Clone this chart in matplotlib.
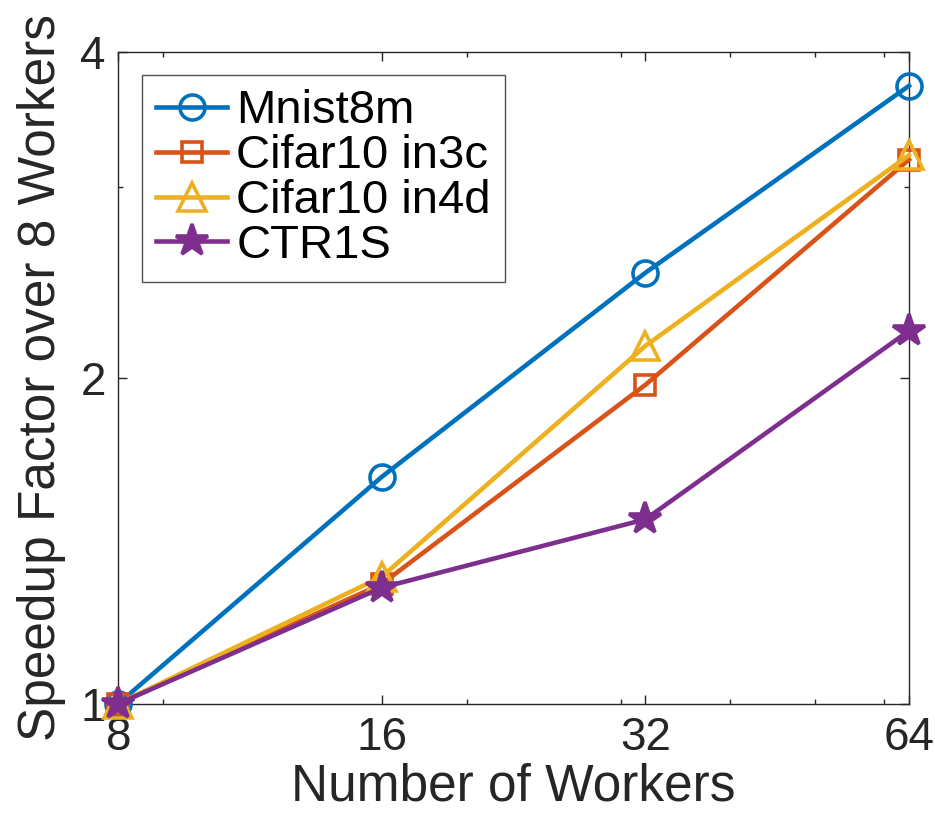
import numpy as np
import matplotlib
matplotlib.use("Agg")
import matplotlib.pyplot as plt
from matplotlib.ticker import FixedLocator, NullFormatter

plt.rcParams["font.family"] = ["Liberation Sans", "DejaVu Sans"]

# speedup relative to 8 workers
workers = [8, 16, 32, 64]
mnist8m = [1.0, 1.62, 2.50, 3.72]
cifar10_in3c = [1.0, 1.29, 1.97, 3.18]
cifar10_in4d = [1.0, 1.31, 2.14, 3.21]
ctr1s = [1.0, 1.28, 1.48, 2.21]

labels = ["Mnist8m", "Cifar10 in3c", "Cifar10 in4d", "CTR1S"]
colors = ["#0072BD", "#D95319", "#EDB120", "#7E2F8E"]
markers = ["o", "s", "^", "*"]
msizes = [18, 15, 20, 24]
filled = [False, False, False, True]

ink = "#262626"

fig = plt.figure(figsize=(9.35, 8.14), dpi=100)
ax = fig.add_axes([0.1265, 0.1355, 0.8457, 0.801])

for ys, lab, c, m, ms, f in zip([mnist8m, cifar10_in3c, cifar10_in4d, ctr1s],
                                labels, colors, markers, msizes, filled):
    ax.plot(workers, ys, color=c, lw=3.3, marker=m, ms=ms,
            mfc=c if f else "none", mec=c, mew=2.6, label=lab,
            clip_on=False, zorder=3)

ax.set_xscale("log", base=2)
ax.set_yscale("log", base=2)
ax.set_xlim(8, 64)
ax.set_ylim(1, 4)

ax.xaxis.set_major_locator(FixedLocator([8, 16, 32, 64]))
ax.xaxis.set_minor_locator(FixedLocator([9, 20, 30, 40, 50, 60]))
ax.yaxis.set_major_locator(FixedLocator([1, 2, 4]))
ax.yaxis.set_minor_locator(FixedLocator([3]))
ax.set_xticklabels(["8", "16", "32", "64"])
ax.set_yticklabels(["1", "2", "4"])
ax.xaxis.set_minor_formatter(NullFormatter())
ax.yaxis.set_minor_formatter(NullFormatter())

ax.tick_params(which="both", direction="in", top=True, right=True,
               colors=ink, labelsize=33, width=1.0)
ax.tick_params(which="major", length=6.5, pad=9)
ax.tick_params(which="minor", length=3.5)
for sp in ax.spines.values():
    sp.set_color(ink)
    sp.set_linewidth(1.0)

ax.set_xlabel("Number of Workers", fontsize=37, color=ink, labelpad=2)
ax.set_ylabel("Speedup Factor over 8 Workers", fontsize=37, color=ink, labelpad=10)

leg = ax.legend(loc="upper left", bbox_to_anchor=(142 / 935, 1 - 75 / 814),
                bbox_transform=fig.transFigure, fontsize=34, frameon=True,
                fancybox=False, edgecolor=ink, handlelength=1.5,
                handletextpad=0.2, labelspacing=0.02, borderpad=0.3,
                borderaxespad=0)
leg.get_frame().set_linewidth(1.0)
for h in leg.legend_handles:
    h.set_linewidth(3.3)

fig.savefig("out.png", dpi=100)
